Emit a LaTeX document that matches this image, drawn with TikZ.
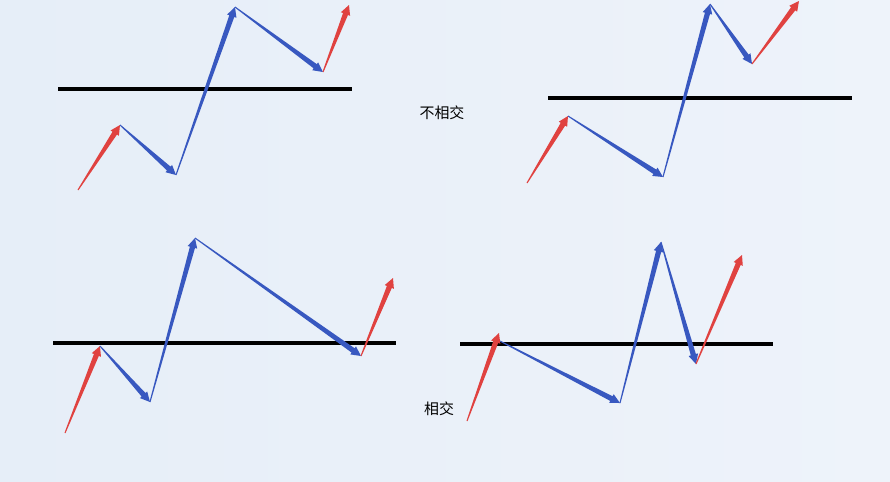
\documentclass[tikz,border=0pt]{standalone}
\usepackage{fontspec}
\newfontfamily\cjkfont{Noto Sans CJK SC}
\usepackage{tikz}
\usetikzlibrary{calc}
\definecolor{bgleft}{RGB}{230,238,248}
\definecolor{bgright}{RGB}{238,243,250}
\definecolor{upred}{RGB}{224,66,64}
\definecolor{downblue}{RGB}{56,88,192}
\tikzset{
	taper/.style={to path={
		($(\tikztostart)!0.3pt!90:(\tikztotarget)$)
		-- ($(\tikztotarget)!5.5pt!(\tikztostart)!1.5pt!90:(\tikztotarget)$)
		-- ($(\tikztotarget)!5.5pt!(\tikztostart)!2.8pt!90:(\tikztotarget)$)
		-- (\tikztotarget)
		-- ($(\tikztotarget)!5.5pt!(\tikztostart)!2.8pt!-90:(\tikztotarget)$)
		-- ($(\tikztotarget)!5.5pt!(\tikztostart)!1.5pt!-90:(\tikztotarget)$)
		-- ($(\tikztostart)!0.3pt!-90:(\tikztotarget)$) -- cycle}},
	redup/.style={taper,fill=upred},
	bluemove/.style={taper,fill=downblue},
	level/.style={line width=2.3pt,black},
	tag/.style={font=\cjkfont\fontsize{8.5pt}{10pt}\selectfont,inner sep=0pt}
}

\begin{document}
\begin{tikzpicture}[x=0.02cm,y=-0.02cm]
			\shade[left color=bgleft,right color=bgright] (0,0) rectangle (890,481);
			\useasboundingbox (0,0) rectangle (890,481);
			
			\coordinate (L1a) at (58,89);
			\coordinate (L1b) at (352,89);
			\coordinate (P1a) at (78,190);
			\coordinate (P1b) at (120,125);
			\coordinate (P1c) at (176,175);
			\coordinate (P1d) at (235,7);
			\coordinate (P1e) at (323,72);
			\coordinate (P1f) at (349,5);
			\draw[level] (L1a)--(L1b);
			\fill[redup] (P1a) to (P1b);
			\fill[bluemove] (P1b) to (P1c);
			\fill[bluemove] (P1c) to (P1d);
			\fill[bluemove] (P1d) to (P1e);
			\fill[redup] (P1e) to (P1f);
			
			\coordinate (L2a) at (548,98);
			\coordinate (L2b) at (852,98);
			\coordinate (P2a) at (527,183);
			\coordinate (P2b) at (568,116);
			\coordinate (P2c) at (663,177);
			\coordinate (P2d) at (710,4);
			\coordinate (P2e) at (752,64);
			\coordinate (P2f) at (799,1);
			\draw[level] (L2a)--(L2b);
			\fill[redup] (P2a) to (P2b);
			\fill[bluemove] (P2b) to (P2c);
			\fill[bluemove] (P2c) to (P2d);
			\fill[bluemove] (P2d) to (P2e);
			\fill[redup] (P2e) to (P2f);
			
			\coordinate (L3a) at (53,343);
			\coordinate (L3b) at (396,343);
			\coordinate (P3a) at (65,433);
			\coordinate (P3b) at (100,346);
			\coordinate (P3c) at (150,402);
			\coordinate (P3d) at (195,238);
			\coordinate (P3e) at (361,356);
			\coordinate (P3f) at (393,278);
			\draw[level] (L3a)--(L3b);
			\fill[redup] (P3a) to (P3b);
			\fill[bluemove] (P3b) to (P3c);
			\fill[bluemove] (P3c) to (P3d);
			\fill[bluemove] (P3d) to (P3e);
			\fill[redup] (P3e) to (P3f);
			
			\coordinate (L4a) at (460,344);
			\coordinate (L4b) at (773,344);
			\coordinate (P4a) at (467,421);
			\coordinate (P4b) at (499,333);
			\coordinate (P4c) at (500,341);
			\coordinate (P4d) at (620,403);
			\coordinate (P4e) at (661,242);
			\coordinate (P4f) at (696,364);
			\coordinate (P4g) at (742,255);
			\draw[level] (L4a)--(L4b);
			\fill[redup] (P4a) to (P4b);
			\fill[bluemove] (P4c) to (P4d);
			\fill[bluemove] (P4d) to (P4e);
			\fill[bluemove] (P4e) to (P4f);
			\fill[redup] (P4f) to (P4g);
			
			\node[tag] (apart) at (442,113) {不相交};
			\node[tag] (cross) at (439,409) {相交};
		\end{tikzpicture}
\end{document}
